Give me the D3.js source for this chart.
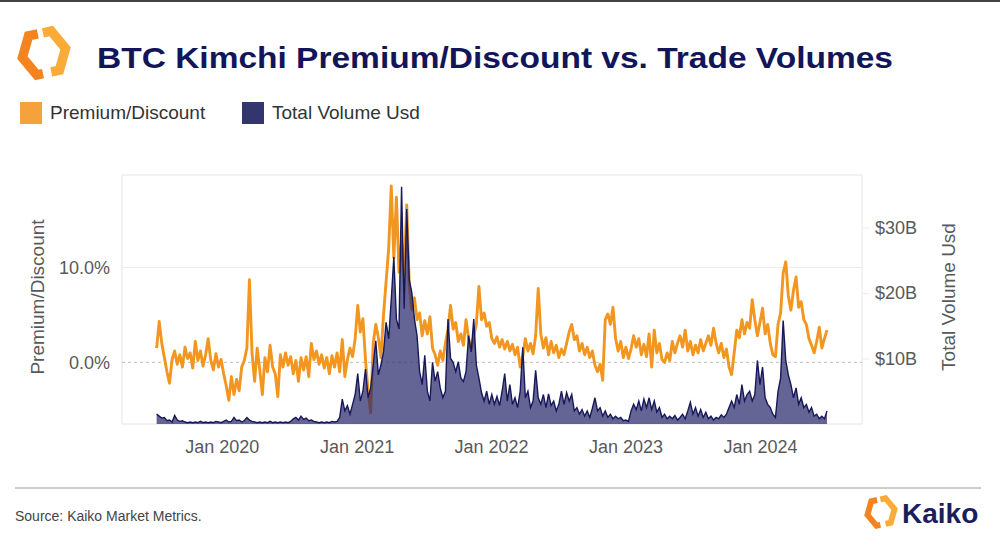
<!DOCTYPE html>
<html><head><meta charset="utf-8">
<script src="https://cdn.jsdelivr.net/npm/d3@7"></script>
<style>body{margin:0;background:#fff;} svg{display:block;font-family:"Liberation Sans",Arial,sans-serif;}</style>
</head><body><svg id="c" width="1000" height="544"></svg>
<script>
// ---- data (weekly samples) ----
const startDate = new Date(2019, 6, 8);
const stepDays = 7;
const premium = [
1.5,4.3,2.0,0.5,-1.0,-2.2,0.3,1.2,-0.2,0.8,
-0.5,1.6,0.4,1.0,-0.6,2.2,0.2,1.2,-0.4,0.8,
2.5,0.2,-0.8,0.9,-0.5,0.3,-1.2,-2.5,-4.0,-1.5,
-3.4,-1.8,-3.0,-0.5,0.2,1.5,8.7,1.0,-2.0,1.5,
-0.8,-3.4,0.5,-1.0,1.8,-0.5,-1.2,-3.6,0.8,-0.5,
1.0,-0.3,0.6,-1.2,0.2,-2.0,0.5,-0.8,0.6,-1.5,
2.0,0.3,1.2,-0.2,0.8,-0.6,0.5,-1.2,0.7,-0.5,
1.0,-1.0,2.4,-1.5,0.3,1.5,0.6,2.5,6.0,3.2,
4.6,0.3,-3.0,-5.3,2.0,4.0,2.6,0.5,5.0,8.5,
12.0,18.6,11.0,17.4,9.5,12.7,9.2,16.6,8.0,5.5,
6.8,4.5,5.2,2.8,4.4,3.0,4.8,1.5,0.8,-0.3,
1.2,0.2,2.0,3.5,6.0,3.5,4.2,2.2,3.0,1.8,
4.5,2.5,1.5,2.8,4.0,8.0,4.5,5.2,3.8,4.2,
2.5,2.0,2.7,1.6,2.4,1.4,2.2,1.2,1.9,0.8,
1.6,-0.5,0.6,2.5,1.2,2.0,0.9,2.8,7.8,3.0,
1.5,2.6,0.8,2.2,1.0,1.8,0.5,1.4,0.8,2.0,
3.2,4.0,2.4,2.8,1.2,2.0,0.8,1.6,0.5,1.2,
-0.3,-1.0,-0.2,-1.9,4.5,5.1,4.0,5.8,2.5,1.2,
2.2,0.5,1.6,0.4,1.4,2.8,1.6,2.5,0.8,1.9,
0.6,3.0,-0.5,3.4,1.0,2.0,0.3,0.0,1.0,0.2,
2.2,1.0,2.0,2.8,1.6,3.4,1.2,2.2,0.8,1.8,
1.0,2.4,1.2,2.0,2.8,1.8,3.6,2.0,1.0,2.0,
0.5,1.4,-0.5,-1.3,1.0,3.4,2.6,4.5,3.0,4.2,
3.6,6.6,4.5,2.8,4.2,5.7,3.0,4.0,2.0,0.8,
0.6,4.0,5.2,9.4,10.6,7.0,5.5,7.6,9.0,5.8,
6.4,4.5,4.0,2.5,1.8,1.0,2.2,3.7,1.5,2.5,3.4
];
const volumeB = [
1.5,1.2,0.9,1.0,0.5,0.6,0.3,1.3,0.6,0.4,
0.5,0.3,0.2,0.3,0.2,0.3,0.2,0.4,0.2,0.3,
0.2,0.3,0.2,0.4,0.3,0.2,0.4,0.6,0.3,0.4,
1.0,0.5,0.6,0.3,0.5,1.0,0.6,0.4,0.3,0.2,
0.3,0.2,0.3,0.2,0.4,0.2,0.3,0.2,0.3,0.2,
0.3,0.2,0.4,0.8,1.0,0.6,1.2,0.7,0.9,0.5,
0.6,0.4,0.3,0.2,0.3,0.2,0.3,0.2,0.4,0.3,
0.4,1.0,3.8,2.0,2.8,1.5,3.0,4.5,7.7,3.5,
5.0,8.4,4.0,5.5,9.0,12.7,7.5,9.0,11.0,15.5,
13.0,19.0,25.5,16.0,14.5,36.2,17.6,32.8,22.0,20.0,
16.0,13.5,8.0,6.0,10.5,5.0,3.5,9.4,6.5,8.0,
5.5,4.0,5.0,16.0,10.0,9.4,8.0,9.5,7.0,6.5,
8.0,13.5,11.0,16.0,9.0,7.0,4.8,3.5,5.0,3.0,
4.5,3.0,4.2,2.8,5.0,7.7,3.5,6.0,3.0,4.0,
2.5,5.0,11.7,4.0,5.0,2.5,3.5,8.2,4.0,3.0,
4.5,2.5,4.6,2.8,3.5,2.0,3.0,5.0,3.0,4.8,
3.5,4.5,2.0,2.5,1.5,2.2,1.2,2.0,1.0,2.4,
4.0,2.0,2.5,1.2,2.0,1.0,1.5,0.8,1.2,0.8,
1.0,0.5,0.6,0.4,2.0,3.0,2.2,3.5,2.0,3.8,
2.5,4.0,2.2,3.5,1.8,2.5,1.0,1.5,0.8,1.2,
0.8,1.3,0.6,1.0,1.5,0.8,2.0,3.3,1.5,2.5,
1.2,2.2,1.0,1.8,0.8,1.2,0.6,1.0,0.8,1.4,
1.0,1.5,2.5,3.5,2.5,4.5,3.0,6.0,3.5,4.5,
5.0,3.5,4.5,9.7,6.0,8.7,4.0,3.0,2.5,1.5,
1.0,5.0,7.0,15.8,9.7,7.5,6.0,4.0,5.5,3.0,
4.0,2.5,3.0,1.8,2.5,1.2,1.5,0.8,1.2,0.8,2.0
];
const leftTicks = [0, 10];
const rightTicks = [10, 20, 30];
const xTickDates = [new Date(2020,0,1), new Date(2021,0,1), new Date(2022,0,1), new Date(2023,0,1), new Date(2024,0,1)];
const titleText = "BTC Kimchi Premium/Discount vs. Trade Volumes";
const legendItems = [{label:"Premium/Discount", color:"#F5A23D"}, {label:"Total Volume Usd", color:"#33356F"}];

const dates = premium.map((_, i) => d3.timeDay.offset(startDate, i * stepDays));
const rows = dates.map((d, i) => ({date: d, p: premium[i], v: volumeB[i]}));

// ---- layout ----
const svg = d3.select("#c");
const L = 122, R = 862, T = 175, B = 424;
const x = d3.scaleTime().domain([new Date(2019,3,5), new Date(2024,9,4)]).range([L, R]);
const yL = d3.scaleLinear().domain([-6.5, 19.75]).range([B, T]);
const yR = d3.scaleLinear().domain([0, 38]).range([B, T]);

// top rule
svg.append("rect").attr("x",0).attr("y",0).attr("width",1000).attr("height",2).attr("fill","#444");

function drawLogo(cx, cy, s) {
  const g = svg.append("g").attr("transform", `translate(${cx},${cy}) rotate(-12) scale(${s})`);
  g.append("path").attr("d","M -2 -19 L -11 -19 L -21 0 L -11 19 L -5 19").attr("fill","none")
    .attr("stroke","#F58420").attr("stroke-width",9).attr("stroke-linejoin","miter");
  g.append("path").attr("d","M 3 -19 L 11 -19 L 21 0 L 11 19 L 3 19").attr("fill","none")
    .attr("stroke","#FAAB38").attr("stroke-width",9).attr("stroke-linejoin","miter");
}
drawLogo(44, 53, 1.05);

const title = svg.append("text").attr("x",97).attr("y",68).attr("font-size",30).attr("font-weight","bold")
  .attr("fill","#13155A").text(titleText);
title.attr("textLength", 796).attr("lengthAdjust","spacingAndGlyphs");

// legend
const legX = [20, 242];
legendItems.forEach((it, i) => {
  svg.append("rect").attr("x", legX[i]).attr("y", 102).attr("width", 22).attr("height", 22).attr("fill", it.color);
  svg.append("text").attr("x", legX[i] + 30).attr("y", 119).attr("font-size", 19).attr("fill","#333").text(it.label);
});

// plot frame & grid
svg.append("rect").attr("x",L).attr("y",T).attr("width",R-L).attr("height",B-T).attr("fill","none").attr("stroke","#e6e6e6");
svg.append("line").attr("x1",L).attr("x2",R).attr("y1",yL(10)).attr("y2",yL(10)).attr("stroke","#ececec");
svg.append("line").attr("x1",L).attr("x2",R).attr("y1",yL(0)).attr("y2",yL(0)).attr("stroke","#bdbdbd").attr("stroke-dasharray","3,3");

// premium line
const line = d3.line().x(d => x(d.date)).y(d => yL(d.p));
svg.append("path").datum(rows).attr("d", line).attr("fill","none").attr("stroke","#F2961F").attr("stroke-width",2.9).attr("stroke-linejoin","round");

// volume area
const area = d3.area().x(d => x(d.date)).y0(yR(0)).y1(d => yR(d.v));
svg.append("path").datum(rows).attr("d", area).attr("fill","#2a2a6c").attr("fill-opacity",0.72);
const vline = d3.line().x(d => x(d.date)).y(d => yR(d.v));
svg.append("path").datum(rows).attr("d", vline).attr("fill","none").attr("stroke","#17185A").attr("stroke-width",1.4);

// axes
const axL = svg.append("g").attr("transform",`translate(${L},0)`)
  .call(d3.axisLeft(yL).tickValues(leftTicks).tickFormat(d => d.toFixed(1) + "%").tickSize(0).tickPadding(12));
const axR = svg.append("g").attr("transform",`translate(${R},0)`)
  .call(d3.axisRight(yR).tickValues(rightTicks).tickFormat(d => "$" + d + "B").tickSize(7).tickPadding(6));
const axB = svg.append("g").attr("transform",`translate(0,${B})`)
  .call(d3.axisBottom(x).tickValues(xTickDates).tickFormat(d3.timeFormat("%b %Y")).tickSize(0).tickPadding(16));
[axL, axR, axB].forEach(a => {
  a.select(".domain").remove();
  a.selectAll("text").attr("fill","#595959").attr("font-size",18).attr("font-family","'Liberation Sans',Arial,sans-serif");
  a.selectAll("line").attr("stroke","#ececec");
});

// axis titles
svg.append("text").attr("transform","translate(44,297) rotate(-90)").attr("text-anchor","middle")
  .attr("font-size",19).attr("fill","#595959").text("Premium/Discount");
svg.append("text").attr("transform","translate(955,297) rotate(-90)").attr("text-anchor","middle")
  .attr("font-size",19).attr("fill","#595959").text("Total Volume Usd");

// footer
svg.append("line").attr("x1",15).attr("x2",981).attr("y1",488).attr("y2",488).attr("stroke","#9a9a9a");
svg.append("text").attr("x",15).attr("y",521).attr("font-size",14).attr("fill","#444")
  .attr("font-family","'Liberation Sans Narrow','Liberation Sans',Arial,sans-serif").text("Source: Kaiko Market Metrics.");
drawLogo(881, 512, 0.66);
svg.append("text").attr("x",902).attr("y",523).attr("font-size",28).attr("font-weight","bold").attr("fill","#1B1E5C").text("Kaiko");
</script></body></html>
